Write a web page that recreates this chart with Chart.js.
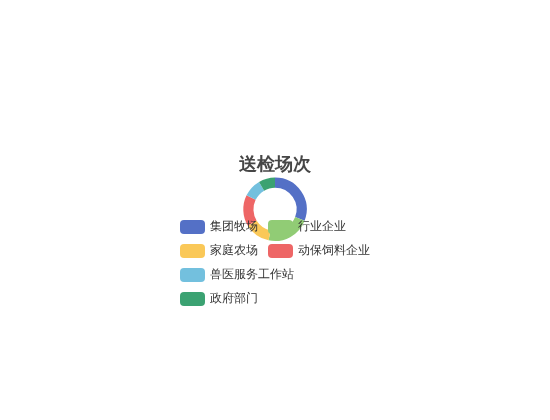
<!DOCTYPE html>
<html lang="zh">
<head>
    <meta charset="UTF-8">
    <title>送检场次</title>
    <script src="https://cdn.jsdelivr.net/npm/chart.js"></script>
    <style>
        html, body { margin: 0; padding: 0; background: #fff; }
        #wrap { width: 550px; height: 420px; }
    </style>
</head>
<body>
<div id="wrap"><canvas id="pieChart" width="550" height="420"></canvas></div>
<script>
    // Data
    const categories = ['集团牧场', '行业企业', '家庭农场', '动保饲料企业', '兽医服务工作站', '政府部门'];
    const inspectionCounts = [33, 24, 14, 17, 10, 9];
    const sliceColors = ['#5470c6', '#91cc75', '#fac858', '#ee6666', '#73c0de', '#3ba272'];

    // Legend drawn after the slices so it sits on top, like the original
    const overlayLegend = {
        id: 'overlayLegend',
        afterDraw(chart) {
            const ctx = chart.ctx;
            const left = 180, top = 220, maxWidth = 195;
            const boxW = 25, boxH = 14, gap = 10, rowH = 24;
            let x = left, y = top;
            ctx.save();
            ctx.font = '12px sans-serif';
            ctx.textBaseline = 'middle';
            ctx.textAlign = 'left';
            const meta = chart.getDatasetMeta(0);
            chart.data.labels.forEach((label, i) => {
                const w = boxW + 5 + ctx.measureText(label).width;
                if (x > left && x + w > left + maxWidth) {
                    x = left;
                    y += rowH;
                }
                ctx.fillStyle = meta.data[i].options.backgroundColor;
                ctx.beginPath();
                ctx.roundRect(x, y, boxW, boxH, 4);
                ctx.fill();
                ctx.fillStyle = '#333';
                ctx.fillText(label, x + boxW + 5, y + boxH / 2);
                x += w + gap;
            });
            ctx.restore();
        }
    };

    const ctx = document.getElementById('pieChart').getContext('2d');
    const chart = new Chart(ctx, {
        type: 'doughnut',
        data: {
            labels: categories,
            datasets: [{
                label: '送检场次',
                data: inspectionCounts,
                backgroundColor: sliceColors,
                borderWidth: 0
            }]
        },
        options: {
            responsive: false,
            animation: false,
            cutout: '68%',
            layout: {
                padding: { top: 154, bottom: 179, left: 0, right: 0 }
            },
            plugins: {
                legend: { display: false },
                tooltip: { enabled: false },
                title: {
                    display: true,
                    text: '送检场次',
                    color: '#464646',
                    font: { size: 18, weight: 'bold', family: 'sans-serif' },
                    padding: { top: 0, bottom: 2 }
                }
            }
        },
        plugins: [overlayLegend]
    });
</script>
</body>
</html>
